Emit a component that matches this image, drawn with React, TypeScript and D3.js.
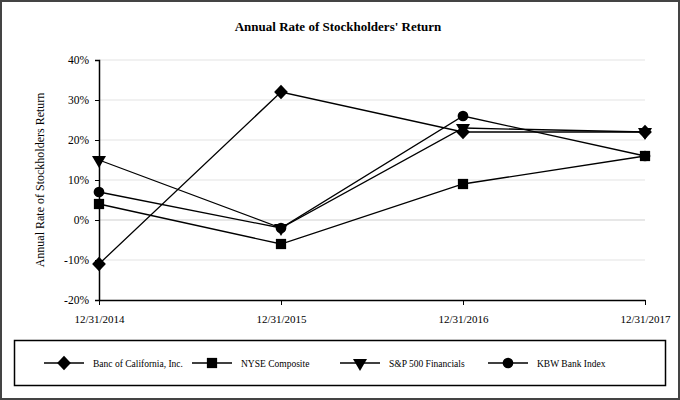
import React, { useEffect, useRef } from "react";
import * as d3 from "d3";

const dates = ["12/31/2014", "12/31/2015", "12/31/2016", "12/31/2017"];
const banc = [-11, 32, 22, 22];
const nyse = [4, -6, 9, 16];
const sp500 = [15, -2, 23, 22];
const kbw = [7, -2, 26, 16];
const yTicks = [-20, -10, 0, 10, 20, 30, 40];

const seriesNames = ["Banc of California, Inc.", "NYSE Composite", "S&P 500 Financials", "KBW Bank Index"];
const seriesValues = [banc, nyse, sp500, kbw];
const symbols = [
  d3.symbolDiamond,
  d3.symbolSquare,
  d3.symbolTriangle,
  d3.symbolCircle,
];
const symbolSizes = [60, 105, 85, 90];
// extra transform so the shapes look like the reference markers
const symbolTweak = [" scale(1.65,1)", "", " rotate(180)", ""];

const App: React.FC = () => {
  const svgRef = useRef<SVGSVGElement>(null);

  useEffect(() => {
    const width = 680;
    const height = 400;
    const font = "'Liberation Serif', 'Times New Roman', serif";

    const root = d3.select(svgRef.current);
    root.selectAll("*").remove();
    root.attr("width", width).attr("height", height);

    root
      .append("rect")
      .attr("x", 1)
      .attr("y", 1)
      .attr("width", width - 2)
      .attr("height", height - 2)
      .attr("fill", "#fff")
      .attr("stroke", "#444")
      .attr("stroke-width", 2);

    root
      .append("text")
      .attr("x", 338)
      .attr("y", 31)
      .attr("text-anchor", "middle")
      .attr("font-family", font)
      .attr("font-weight", "bold")
      .attr("font-size", "13px")
      .text("Annual Rate of Stockholders' Return");

    const x = d3.scalePoint<string>().domain(dates).range([99, 645]);
    const y = d3.scaleLinear().domain([-20, 40]).range([300, 60]);

    // gridlines
    root
      .append("g")
      .selectAll("line")
      .data(yTicks.filter((t) => t !== -20))
      .enter()
      .append("line")
      .attr("x1", 99)
      .attr("x2", 645)
      .attr("y1", (d) => y(d))
      .attr("y2", (d) => y(d))
      .attr("stroke", (d) => (d === 0 ? "#d0d0d0" : "#e4e4e4"))
      .attr("stroke-width", 1.2);

    // y axis
    const yAxis = root
      .append("g")
      .attr("transform", "translate(99,0)")
      .call(
        d3
          .axisLeft(y)
          .tickValues(yTicks)
          .tickSize(4)
          .tickFormat((d) => `${d}%`)
      );
    yAxis.select(".domain").attr("stroke", "#000").attr("stroke-width", 1.5);
    yAxis.selectAll(".tick line").attr("stroke", "#000");
    yAxis
      .selectAll("text")
      .attr("font-family", font)
      .attr("font-size", "11.5px")
      .attr("fill", "#000")
      .attr("x", -10);

    // x axis
    const xAxis = root
      .append("g")
      .attr("transform", "translate(0,300)")
      .call(d3.axisBottom(x).tickSize(5).tickSizeOuter(0));
    xAxis.select(".domain").attr("stroke", "#000").attr("stroke-width", 1.5);
    xAxis.selectAll(".tick line").attr("stroke", "#000");
    xAxis
      .selectAll("text")
      .attr("font-family", font)
      .attr("font-size", "11px")
      .attr("fill", "#000")
      .attr("y", 15);

    root
      .append("text")
      .attr("transform", "translate(44,180) rotate(-90)")
      .attr("text-anchor", "middle")
      .attr("font-family", font)
      .attr("font-size", "12px")
      .text("Annual Rate of Stockholders Return");

    const line = d3
      .line<number>()
      .x((_, i) => x(dates[i]) as number)
      .y((d) => y(d));

    seriesValues.forEach((vals) => {
      root
        .append("path")
        .datum(vals)
        .attr("d", line)
        .attr("fill", "none")
        .attr("stroke", "#000")
        .attr("stroke-width", 1.3);
    });

    seriesValues.forEach((vals, si) => {
      const sym = d3.symbol().type(symbols[si]).size(symbolSizes[si]);
      root
        .append("g")
        .selectAll("path")
        .data(vals)
        .enter()
        .append("path")
        .attr("d", sym)
        .attr("fill", "#000")
        .attr(
          "transform",
          (d, i) => `translate(${x(dates[i])},${y(d)})` + symbolTweak[si]
        );
    });

    // legend
    root
      .append("rect")
      .attr("x", 14.5)
      .attr("y", 340.5)
      .attr("width", 651)
      .attr("height", 45)
      .attr("fill", "none")
      .attr("stroke", "#000")
      .attr("stroke-width", 1.5);

    const legendX = d3.scaleLinear().domain([0, 3]).range([44, 488]);
    const legend = root
      .append("g")
      .selectAll("g")
      .data(seriesNames)
      .enter()
      .append("g")
      .attr("transform", (_, i) => `translate(${legendX(i)},363)`);

    legend
      .append("line")
      .attr("x1", 0)
      .attr("x2", 40)
      .attr("stroke", "#000")
      .attr("stroke-width", 1.3);
    legend
      .append("path")
      .attr("d", (_, i) => d3.symbol().type(symbols[i]).size(symbolSizes[i])())
      .attr("fill", "#000")
      .attr("transform", (_, i) => "translate(20,0)" + symbolTweak[i]);
    legend
      .append("text")
      .attr("x", 49)
      .attr("y", 3.5)
      .attr("font-family", font)
      .attr("font-size", "9.5px")
      .text((d) => d);
  }, []);

  return (
    <svg
      ref={svgRef}
      style={{ position: "absolute", left: 0, top: 0, display: "block" }}
    ></svg>
  );
};

export default App;
